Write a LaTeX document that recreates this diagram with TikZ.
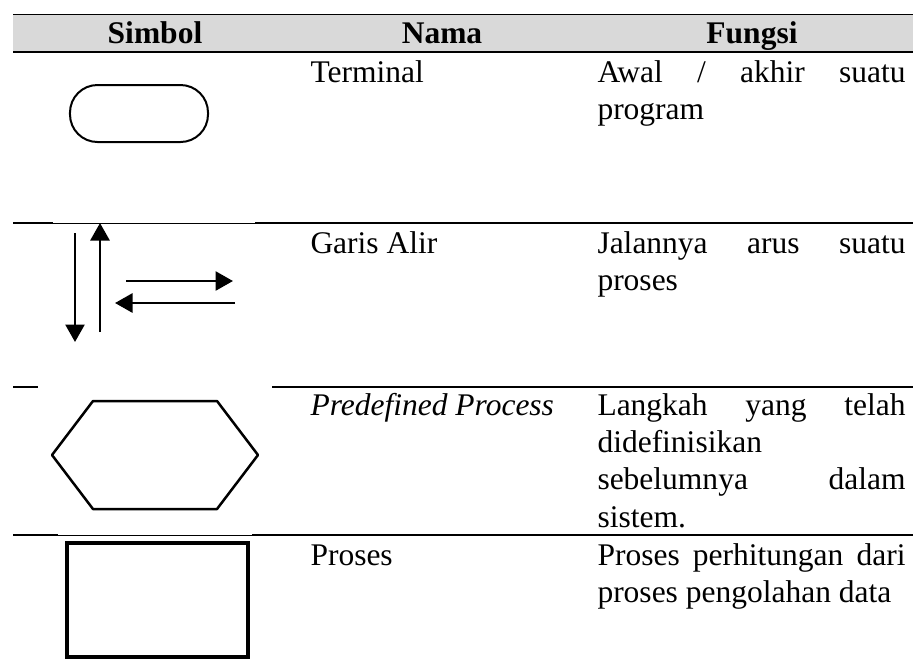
\documentclass[tikz,border=0pt]{standalone}
\usepackage{fontspec}
\setmainfont{Liberation Serif}
\usetikzlibrary{arrows.meta,positioning}
\definecolor{headgray}{HTML}{D9D9D9}

\newlength{\fgw}\setlength{\fgw}{123.2pt}
\newcommand{\jline}[1]{\makebox[\fgw][s]{#1}}

\begin{document}
\begin{tikzpicture}[x=0.4pt,y=-0.4pt,
    txt/.style={anchor=base west, inner sep=0pt, font=\fontsize{12.6}{15}\selectfont},
    hd/.style={anchor=base, inner sep=0pt, font=\fontsize{12.6}{15}\selectfont\bfseries},
    rule/.style={line width=0.8pt},
    hair/.style={line width=0.4pt},
    flow/.style={line width=1.1pt, -{Triangle[length=7pt,width=7.6pt]}}]
    \useasboundingbox (0,0) rectangle (913,662);

    % header
    \fill [headgray] (13,14) rectangle (913,52);
    \draw [hair] (13,14) -- (913,14);
    \draw [rule] (13,52) -- (913,52);
    \node [hd] (hsimbol) at (155,43) {Simbol};
    \node [hd] (hnama) at (442,43) {Nama};
    \node [hd] (hfungsi) at (752,43) {Fungsi};

    % row rules
    \draw [rule] (13,223) -- (53,223);
    \draw [hair] (53,223) -- (255,223);
    \draw [rule] (255,223) -- (913,223);
    \draw [rule] (13,387) -- (38,387);
    \draw [rule] (272,387) -- (913,387);
    \draw [rule] (13,535) -- (58,535);
    \draw [hair] (58,535) -- (252,535);
    \draw [rule] (252,535) -- (913,535);

    % terminal
    \node [draw, line width=0.8pt, rounded corners=11pt, minimum width=55.2pt, minimum height=22.8pt] (term) at (139,113.5) {};
    \node [txt] (nterm) at (310,82) {Terminal};
    \node [txt] (fterm1) at (597,82) {\jline{Awal / akhir suatu}};
    \node [txt] (fterm2) at (597,119) {program};

    % garis alir
    \coordinate (dtop) at (75,233);
    \coordinate (dbot) at (75,342);
    \coordinate (ubot) at (100,332);
    \coordinate (utop) at (100,223);
    \coordinate (rl) at (126,281);
    \coordinate (rr) at (233,281);
    \coordinate (lr) at (235,303);
    \coordinate (ll) at (115,303);
    \draw [flow] (dtop) -- (dbot);
    \draw [flow] (ubot) -- (utop);
    \draw [flow] (rl) -- (rr);
    \draw [flow] (lr) -- (ll);
    \node [txt] (nalir) at (310,253) {Garis Alir};
    \node [txt] (falir1) at (597,253) {\jline{Jalannya arus suatu}};
    \node [txt] (falir2) at (597,290) {proses};

    % predefined process
    \draw [line width=1pt, line join=round] (93,401) -- (217,401) -- (258,455) -- (217,509) -- (93,509) -- (52,455) -- cycle;
    \node [txt] (npre) at (310,415) {\itshape Predefined Process};
    \node [txt] (fpre1) at (597,415) {\jline{Langkah yang telah}};
    \node [txt] (fpre2) at (597,452) {didefinisikan};
    \node [txt] (fpre3) at (597,489) {\jline{sebelumnya dalam}};
    \node [txt] (fpre4) at (597,527) {sistem.};

    % proses
    \node [draw, line width=1.3pt, minimum width=72.4pt, minimum height=45.6pt] (proc) at (157.5,600) {};
    \node [txt] (nproc) at (310,565) {Proses};
    \node [txt] (fproc1) at (597,565) {\jline{Proses perhitungan dari}};
    \node [txt] (fproc2) at (597,602) {proses pengolahan data};
\end{tikzpicture}
\end{document}
